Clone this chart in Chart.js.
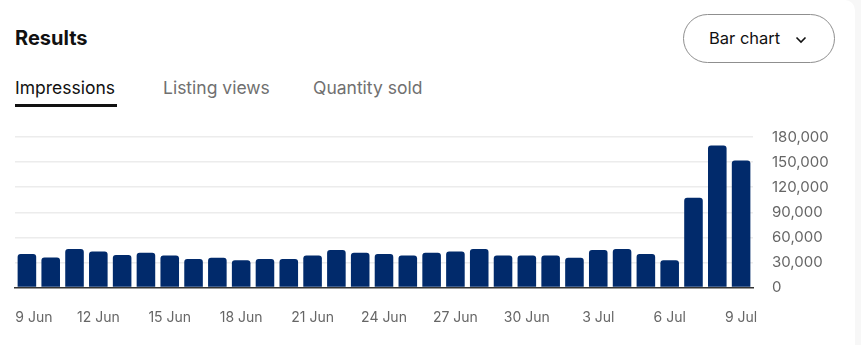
<!DOCTYPE html>
<html>
<head>
<meta charset="utf-8">
<script src="https://cdn.jsdelivr.net/npm/chart.js@4.4.0/dist/chart.umd.min.js"></script>
<style>
  html, body { margin: 0; padding: 0; background: #f7f7f7; }
  body { width: 861px; height: 345px; overflow: hidden; position: relative; font-family: Inter, "Open Sans", sans-serif; }
  #card { position: absolute; left: 0; top: 0; width: 855px; height: 345px; background: #fff; border-top-right-radius: 10px; }
  #title { position: absolute; left: 15px; top: 26px; font-size: 20px; font-weight: 700; color: #111; }
  .tab { position: absolute; top: 77px; font-size: 17.5px; color: #707070; }
  .tab.on { color: #111; }
  #bar { position: absolute; left: 15px; top: 104px; width: 102px; height: 3px; background: #111; }
  #btn { position: absolute; left: 683px; top: 14px; width: 152px; height: 49px; border: 1px solid #8f8f8f; border-radius: 25px; box-sizing: border-box; }
  #btn span { position: absolute; left: 25px; top: 13px; font-size: 16.5px; color: #111; }
  #btn svg { position: absolute; left: 111px; top: 21px; }
  #wrap { position: absolute; left: 0; top: 125px; width: 855px; height: 220px; }
</style>
</head>
<body>
<div id="card"></div>
<div id="title">Results</div>
<div class="tab on" style="left:15px">Impressions</div>
<div class="tab" style="left:163px">Listing views</div>
<div class="tab" style="left:313px">Quantity sold</div>
<div id="bar"></div>
<div id="btn"><span>Bar chart</span>
  <svg width="12" height="8" viewBox="0 0 12 8"><path d="M1.5 1.5 L6 6 L10.5 1.5" fill="none" stroke="#111" stroke-width="1.6"/></svg>
</div>
<div id="wrap"><canvas id="results"></canvas></div>
<script>
var days = ['9 Jun','10 Jun','11 Jun','12 Jun','13 Jun','14 Jun','15 Jun','16 Jun','17 Jun','18 Jun',
  '19 Jun','20 Jun','21 Jun','22 Jun','23 Jun','24 Jun','25 Jun','26 Jun','27 Jun','28 Jun',
  '29 Jun','30 Jun','1 Jul','2 Jul','3 Jul','4 Jul','5 Jul','6 Jul','7 Jul','8 Jul','9 Jul'];
var impressions = [40000, 36000, 46000, 43200, 38800, 41500, 38400, 34000, 35600, 32500,
  34000, 34000, 38400, 44800, 41500, 40000, 38400, 41500, 43200, 46000,
  38400, 38400, 38400, 35600, 44800, 46000, 40000, 32500, 107200, 169800, 151900];
var yTicks = [0, 30000, 60000, 90000, 120000, 150000, 180000];

ctx = document.getElementById('results').getContext('2d');
chart = new Chart(ctx, {
  type: 'bar',
  data: {
    labels: days,
    datasets: [{
      data: impressions,
      backgroundColor: '#012a6b',
      borderRadius: 3,
      borderSkipped: 'start',
      categoryPercentage: 1,
      barPercentage: 0.78
    }]
  },
  options: {
    responsive: true,
    maintainAspectRatio: false,
    animation: false,
    layout: { padding: { left: 15, top: 12, right: 0, bottom: 0 } },
    plugins: { legend: { display: false }, tooltip: { enabled: false } },
    scales: {
      x: {
        grid: { display: false, drawTicks: false },
        border: { display: true, color: '#333', width: 1.5 },
        ticks: {
          autoSkip: false,
          maxRotation: 0,
          padding: 22,
          color: '#666',
          font: { family: 'Inter', size: 14 },
          // first label sits inside the card edge, nudge it right
          callback: function(v, i) {
            if (i % 3 != 0) return null;
            return i == 0 ? '\u2002\u2002' + days[i] : days[i];
          }
        },
        afterFit: function(s) { s.height = 57.5; s.paddingLeft = 0; s.paddingRight = 0; }
      },
      y: {
        position: 'right',
        min: 0,
        max: 180000,
        afterBuildTicks: function(s) { s.ticks = yTicks.map(function(v) { return { value: v }; }); },
        grid: {
          drawTicks: false,
          lineWidth: 1.5,
          color: function(c) { return c.tick && c.tick.value === 0 ? 'rgba(0,0,0,0)' : '#ececec'; }
        },
        border: { display: false },
        ticks: {
          padding: 19,
          color: '#666',
          font: { family: 'Inter', size: 15 },
          callback: function(v) { return v.toLocaleString('en-US'); }
        },
        afterFit: function(s) { s.width = 102; s.paddingTop = 0; s.paddingBottom = 0; }
      }
    }
  }
});
</script>
</body>
</html>
